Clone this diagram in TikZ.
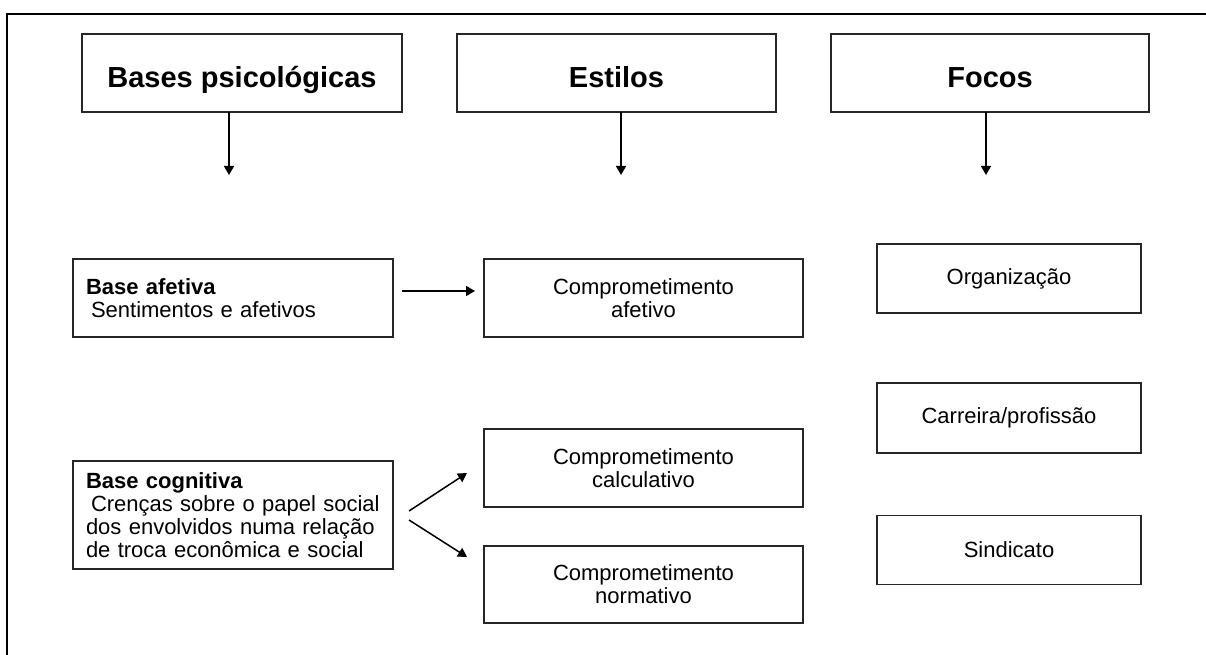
\documentclass[tikz,border=0pt]{standalone}
\usepackage{fontspec}
\setmainfont{Liberation Sans}
\usetikzlibrary{arrows.meta}
\tikzset{
  box/.style={draw=black!85, line width=1.4pt, outer sep=0pt, inner sep=0pt, font=\fontsize{22}{23}\selectfont, align=center},
  headbox/.style={box, minimum height=78pt, text height=30pt, text depth=0pt, font=\fontsize{29}{32}\selectfont\bfseries},
  basebox/.style={box, text width=294pt, inner xsep=13pt, align=left},
  focbox/.style={box, minimum width=264pt, minimum height=69pt},
  estbox/.style={box, minimum width=319pt, minimum height=78pt},
  arr/.style={line width=1.5pt, -{Triangle[length=9pt,width=10pt]}},
  frame/.style={line width=1.3pt}
}
\begin{document}
\begin{tikzpicture}[x=1pt,y=-1pt]
\useasboundingbox (0,0) rectangle (1206,655);
\coordinate (ftop) at (1206,14);
\coordinate (fcorner) at (7,14);
\coordinate (fbot) at (7,655);
\draw[frame] (ftop) -- (fcorner) -- (fbot);

% header row
\node[headbox, minimum width=320pt] (hb) at (242,73) {Bases psicológicas};
\node[headbox, minimum width=319pt] (he) at (616.5,73) {Estilos};
\node[headbox, minimum width=318pt] (hf) at (990,73) {Focos};

\coordinate (d1) at (229,175);
\coordinate (d2) at (621,175);
\coordinate (d3) at (986,175);
\draw[arr] (hb.south -| d1) -- (d1);
\draw[arr] (he.south -| d2) -- (d2);
\draw[arr] (hf.south -| d3) -- (d3);

% bases
\node[basebox, minimum height=78pt] (ba) at (233,298) {\textbf{Base afetiva}\\\hspace*{5pt}Sentimentos e afetivos};
\node[basebox, minimum height=108pt] (bc) at (233,515) {\textbf{Base cognitiva}\\\hspace*{5pt}Crenças sobre o papel social\\dos envolvidos numa relação\\de troca econômica e social};

% estilos
\node[estbox] (ca) at (643.5,298) {Comprometimento\\afetivo};
\node[estbox] (cc) at (643.5,468) {Comprometimento\\calculativo};
\node[estbox, minimum height=77pt] (cn) at (643.5,584.5) {Comprometimento\\normativo};

% focos
\node[focbox] (fo) at (1009,278.5) {Organização};
\node[focbox, minimum height=70pt] (fc) at (1009,418) {Carreira/profissão};
\node[focbox] (fs) at (1009,550) {Sindicato};

% connectors
\draw[arr] ([xshift=9pt,yshift=7pt]ba.east) -- ([xshift=-9pt,yshift=7pt]ca.west);
\draw[arr] ([xshift=16pt,yshift=4pt]bc.east) -- ([xshift=-17pt,yshift=-5pt]cc.west);
\draw[arr] ([xshift=16pt,yshift=-5pt]bc.east) -- ([xshift=-17pt,yshift=27.5pt]cn.west);
\end{tikzpicture}
\end{document}
